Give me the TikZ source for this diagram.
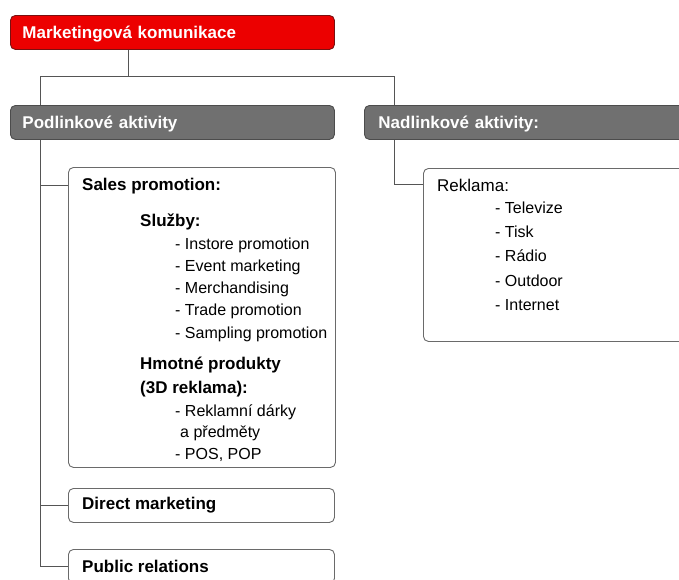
\documentclass[tikz,border=0pt]{standalone}
\usepackage{fontspec}
\setmainfont{Liberation Sans}
\definecolor{topred}{HTML}{EC0000}
\definecolor{topredline}{HTML}{7A1010}
\definecolor{midgray}{HTML}{707070}
\definecolor{midgrayline}{HTML}{4C4C4C}
\definecolor{linegray}{HTML}{555555}
\definecolor{boxline}{HTML}{6A6A6A}
\begin{document}
\begin{tikzpicture}[x=1pt,y=-1pt,
  link/.style={draw=linegray, line width=0.9pt},
  bar/.style={rounded corners=5pt, minimum height=34pt, anchor=north west,
    text=white, font=\fontsize{17}{20}\selectfont\bfseries, align=left,
    inner xsep=12pt, text height=12pt, text depth=0pt, line width=0.9pt},
  redbar/.style={bar, fill=topred, draw=topredline},
  graybar/.style={bar, fill=midgray, draw=midgrayline},
  frame/.style={draw=boxline, fill=white, rounded corners=5pt, line width=0.9pt,
    anchor=north west, inner sep=0pt},
  head/.style={anchor=base west, inner sep=0pt, font=\fontsize{17}{20}\selectfont\bfseries},
  item/.style={anchor=base west, inner sep=0pt, font=\fontsize{16}{19}\selectfont}]
\useasboundingbox (0,0) rectangle (679,579);
\clip (0,0) rectangle (679,579);

% top-level bars
\node[redbar, text width=300pt] (mk) at (10,15) {Marketingová komunikace};
\node[graybar, text width=300pt] (pod) at (10,105) {Podlinkové aktivity};
\node[graybar, text width=320pt, inner xsep=14pt] (nad) at (364,105) {Nadlinkové aktivity:};

% content frames
\node[frame, minimum width=267pt, minimum height=300pt] (sp) at (68,167) {};
\node[frame, minimum width=266pt, minimum height=34pt] (dm) at (68,488) {};
\node[frame, minimum width=266pt, minimum height=34pt] (pr) at (68,549) {};
\node[frame, minimum width=270pt, minimum height=173pt] (rk) at (423,168) {};

% connector junctions
\coordinate (trunkL) at (40,76);
\coordinate (hub) at (128,76);
\coordinate (trunkR) at (394,76);
\coordinate (spb) at ([yshift=-18pt]sp.north west);
\coordinate (rkb) at ([yshift=-16pt]rk.north west);

\draw[link] (mk.south -| hub) -- (hub);
\draw[link] (pod.north -| trunkL) -- (trunkL) -- (trunkR) -- (nad.north -| trunkR);
\draw[link] (pod.south -| trunkL) |- (pr.west);
\draw[link] (trunkL |- spb) -- (spb);
\draw[link] (trunkL |- dm.west) -- (dm.west);
\draw[link] (nad.south -| trunkR) |- (rkb);

% sales promotion
\node[head] (spT) at (82,190.5) {Sales promotion:};
\node[head] (svT) at (140,226.5) {Služby:};
\node[item] (s1) at (175,249.3) {- Instore promotion};
\node[item] (s2) at (175,271.5) {- Event marketing};
\node[item] (s3) at (175,293.7) {- Merchandising};
\node[item] (s4) at (175,315.9) {- Trade promotion};
\node[item] (s5) at (175,338.1) {- Sampling promotion};
\node[head] (hpT) at (140,369) {Hmotné produkty};
\node[head] (hpT2) at (140,393) {(3D reklama):};
\node[item] (h1) at (175,416) {- Reklamní dárky};
\node[item] (h2) at (180,437.5) {a předměty};
\node[item] (h3) at (175,459) {- POS, POP};

% other below-the-line items
\node[head] (dmT) at (82,509) {Direct marketing};
\node[head] (prT) at (82,572) {Public relations};

% above-the-line
\node[head, font=\fontsize{17}{20}\selectfont] (rkT) at (437,191) {Reklama:};
\node[item] (r1) at (495,213.5) {- Televize};
\node[item] (r2) at (495,237.7) {- Tisk};
\node[item] (r3) at (495,261.9) {- Rádio};
\node[item] (r4) at (495,286.1) {- Outdoor};
\node[item] (r5) at (495,310.3) {- Internet};
\end{tikzpicture}
\end{document}
